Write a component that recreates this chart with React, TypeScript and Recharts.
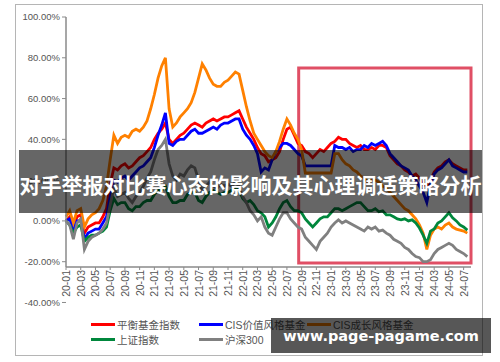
import React from 'react';
import { LineChart, Line, XAxis, YAxis, ReferenceArea, Legend } from 'recharts';

// x tick labels, one every two months starting 2020-01
const tickLabels = ['20-01','20-03','20-05','20-07','20-09','20-11','21-01','21-03','21-05','21-07','21-09','21-11','22-01','22-03','22-05','22-07','22-09','22-11','23-01','23-03','23-05','23-07','23-09','23-11','24-01','24-03','24-05','24-07'];
const yTicks = [-40, -20, 0, 20, 40, 60, 80, 100];

// half-month samples (%), 2020-01 .. 2024-07
const balanced = [
  0, 2, -3, 2, 3, -6, -3, -2, -1, -1, 2, 6, 18, 26, 25, 27, 28, 26, 27, 29, 31, 32, 34, 36,
  40, 43, 45, 48, 40, 38, 40, 42, 43, 45, 47, 48, 47, 46, 48, 49, 50, 49, 50, 51, 51, 52, 53, 54,
  50, 46, 43, 40, 36, 33, 32, 29, 30, 31, 34, 40, 45, 46, 42, 38, 37, 34, 33, 31, 33, 35, 34, 36,
  38, 39, 41, 40, 40, 38, 37, 36, 37, 35, 35, 36, 35, 37, 37, 36, 32, 30, 28, 27, 25, 24, 22, 23,
  21, 18, 17, 20, 24, 26, 27, 29, 30, 28, 27, 26, 25, 25,
];
const valueStyle = [
  0, 1, -4, 0, 0, -9, -6, -5, -4, -4, -1, 2, 12, 20, 19, 21, 22, 20, 22, 24, 26, 27, 29, 31,
  36, 42, 47, 53, 38, 37, 39, 40, 40, 42, 44, 45, 43, 43, 44, 45, 46, 45, 47, 48, 48, 49, 50, 50,
  45, 42, 40, 37, 33, 24, 26, 25, 30, 34, 36, 38, 38, 37, 35, 33, 32, 27, 27, 27, 27, 27, 27, 27,
  27, 37, 36, 36, 35, 36, 34, 35, 35, 37, 36, 38, 37, 38, 39, 37, 33, 31, 29, 27, 26, 25, 22, 20,
  17, 14, 9, 18, 23, 25, 26, 28, 30, 27, 26, 25, 24, 24,
];
const growthStyle = [
  2, 5, -1, 5, 6, -3, 1, 3, 4, 6, 10, 17, 30, 42, 38, 41, 42, 41, 44, 45, 44, 46, 49, 55,
  62, 70, 76, 80, 55, 46, 48, 51, 53, 55, 58, 63, 70, 77, 74, 70, 67, 66, 66, 68, 69, 71, 73, 72,
  64, 56, 49, 43, 40, 37, 34, 32, 31, 34, 39, 45, 50, 47, 43, 40, 35, 23.5, 23.5, 23.5, 23.5, 23.5, 23.5, 23.5,
  23.5, 33, 33, 30, 28, 27, 25, 24, 22, 21, 19, 20, 20, 19, 17, 16, 14, 12, 10, 8, 6, 5, 3, 1,
  -2, -6, -14, -7, -4, -3, -4, -2, -1, -3, -4, -4.5, -5, -6,
];
const sse = [
  0, -2, -6, -3, -2, -10, -8, -7, -7, -6, -5, -3, 5, 11, 8, 9, 9, 6, 5, 7, 7, 9, 10, 10,
  13, 15, 15, 17, 12, 9, 9, 10, 10, 13, 14, 14, 10, 9, 12, 14, 15, 14, 13, 14, 14, 15, 16, 15,
  11, 9, 10, 8, 5, 4, 2, -3, -1, 2, 6, 9, 10, 7, 5, 5, 4, 1, -1, -3, -1, 1, 2, 2,
  4, 6, 6, 5, 6, 7, 8, 9, 9, 7, 5, 5, 6, 4.5, 5, 3, 3, 2, 1, 0.5, 1, 0, 0.5, -1,
  -3.5, -7, -11, -5, -4, -1, 0, 2, 4, 1.5, 0, -2, -3, -4.5,
];
const csi300 = [
  0, -2, -9, -1, 1, -14, -10, -8, -7, -6, -4, -1, 8, 16, 12, 13, 14, 11, 9, 12, 14, 17, 21, 24,
  30, 35, 37, 40, 28, 22, 20, 23, 22, 25, 27, 26, 20, 15, 17, 19, 17, 16, 18, 17, 18, 17, 19, 17,
  12, 9, 5, 3, 0, 2, -3, -6, -7, -3, 1, 4, 4, 1, -1, -3, -4, -8, -10, -12, -14, -10, -8, -6,
  -3, -1, 0.5, -1, 0, -1, -2, -3, -4, -5, -3, -4, -3, -5, -4.5, -6, -7, -9, -10, -11, -13, -14, -16, -17.5,
  -18, -20, -20, -19, -16, -14, -13, -12, -11, -12, -14, -15, -16, -17.5,
];

const seriesKeys = ['balanced', 'valueStyle', 'growthStyle', 'sse', 'csi300'];
const seriesNames = ['平衡基金指数', 'CIS价值风格基金', 'CIS成长风格基金', '上证指数', '沪深300'];
const seriesColors = ['#FF0000', '#0000FF', '#FF8000', '#00873C', '#808080'];
const seriesValues = [balanced, valueStyle, growthStyle, sse, csi300];

// highlighted window (months since 2020-01, %)
const highlight = { x1: 31.6, x2: 55, y1: -20.6, y2: 75 };

const title = '对手举报对比赛心态的影响及其心理调适策略分析';
const watermark = 'www.page-pagame.com';

const data = balanced.map((_, i) => {
  const row: Record<string, number> = { t: i / 2 };
  seriesKeys.forEach((k, s) => { row[k] = seriesValues[s][i]; });
  return row;
});

const xTicks = tickLabels.map((_, i) => i * 2);
const fmtX = (v: number) => tickLabels[Math.round(v / 2)] ?? '';

const FONT = "'Liberation Sans', Arial, 'Noto Sans CJK SC', sans-serif";

const XTick = (props: any) => {
  const { x, y, payload } = props;
  return (
    <text
      x={0}
      y={0}
      transform={`translate(${x},${y}) rotate(-90)`}
      textAnchor="end"
      dominantBaseline="central"
      fontSize={10.5}
      fill="#555"
      fontFamily={FONT}
    >
      {fmtX(payload.value)}
    </text>
  );
};

const legendSlots = [
  { left: 91, top: 8 },
  { left: 199, top: 8 },
  { left: 307, top: 8 },
  { left: 91, top: 23 },
  { left: 199, top: 23 },
];

const LegendContent = () => (
  <div style={{ position: 'relative', width: 500, height: 40, fontFamily: FONT }}>
    {seriesNames.map((name, i) => (
      <div
        key={name}
        style={{
          position: 'absolute',
          left: legendSlots[i].left,
          top: legendSlots[i].top - 8,
          height: 16,
          display: 'flex',
          alignItems: 'center',
          whiteSpace: 'nowrap',
        }}
      >
        <span style={{ display: 'inline-block', width: 24, height: 3, background: seriesColors[i], marginRight: 2 }} />
        <span style={{ fontSize: 10.5, color: '#555' }}>{name}</span>
      </div>
    ))}
  </div>
);

export default function App() {
  return (
    <div style={{ position: 'absolute', left: 0, top: 0, width: 500, height: 362, background: '#fff', overflow: 'hidden', fontFamily: FONT }}>
      <div style={{ position: 'absolute', left: 15, top: 4, width: 468, height: 352, border: '1.5px solid #b5b5b5', boxSizing: 'border-box' }} />
      <div style={{ position: 'absolute', left: 0, top: 0 }}>
        <LineChart width={500} height={362} data={data} margin={{ top: 17, right: 29, bottom: 60, left: 0 }}>
          <XAxis
            dataKey="t"
            type="number"
            domain={[0, 55]}
            ticks={xTicks}
            interval={0}
            height={35}
            tick={<XTick />}
            tickSize={3}
            tickMargin={0}
            axisLine={{ stroke: '#8a8a8a', strokeWidth: 1.5 }}
            tickLine={{ stroke: '#8a8a8a' }}
          />
          <YAxis
            type="number"
            domain={[-22.6, 100]}
            allowDataOverflow
            ticks={yTicks}
            interval={0}
            width={66}
            tickSize={4}
            tickMargin={2}
            tickFormatter={(v: number) => `${v.toFixed(2)}%`}
            tick={{ fontSize: 9.5, fill: '#555', fontFamily: FONT }}
            axisLine={{ stroke: '#8a8a8a', strokeWidth: 1.5 }}
            tickLine={{ stroke: '#8a8a8a' }}
          />
          {seriesKeys.map((k, i) => (
            <Line
              key={k}
              dataKey={k}
              name={seriesNames[i]}
              stroke={seriesColors[i]}
              strokeWidth={2.8}
              dot={false}
              type="linear"
              isAnimationActive={false}
            />
          ))}
          <ReferenceArea
            x1={highlight.x1}
            x2={highlight.x2}
            y1={highlight.y1}
            y2={highlight.y2}
            fill="none"
            fillOpacity={0}
            stroke="#E04F65"
            strokeWidth={3}
            ifOverflow="visible"
          />
          <Legend
            layout="horizontal"
            verticalAlign="middle"
            align="center"
            content={<LegendContent />}
            wrapperStyle={{ position: 'absolute', left: 0, top: 316, width: 500, height: 40 }}
          />
        </LineChart>
      </div>
      <div
        style={{
          position: 'absolute', left: 19, top: 150, width: 463, height: 63,
          background: 'rgba(0,0,0,0.6)', color: '#fff', fontWeight: 'bold', fontSize: 21,
          fontFamily: "'Noto Sans CJK SC', sans-serif", display: 'flex', alignItems: 'center',
          justifyContent: 'center', whiteSpace: 'nowrap', paddingTop: 4, boxSizing: 'border-box',
        }}
      >
        {title}
      </div>
      <div
        style={{
          position: 'absolute', left: 271, top: 318, width: 220, height: 35,
          background: 'rgba(0,0,0,0.66)', color: '#fff', fontWeight: 'bold', fontSize: 14.5,
          fontFamily: "'DejaVu Sans', sans-serif", display: 'flex', alignItems: 'center',
          justifyContent: 'center', whiteSpace: 'nowrap',
        }}
      >
        {watermark}
      </div>
    </div>
  );
}
